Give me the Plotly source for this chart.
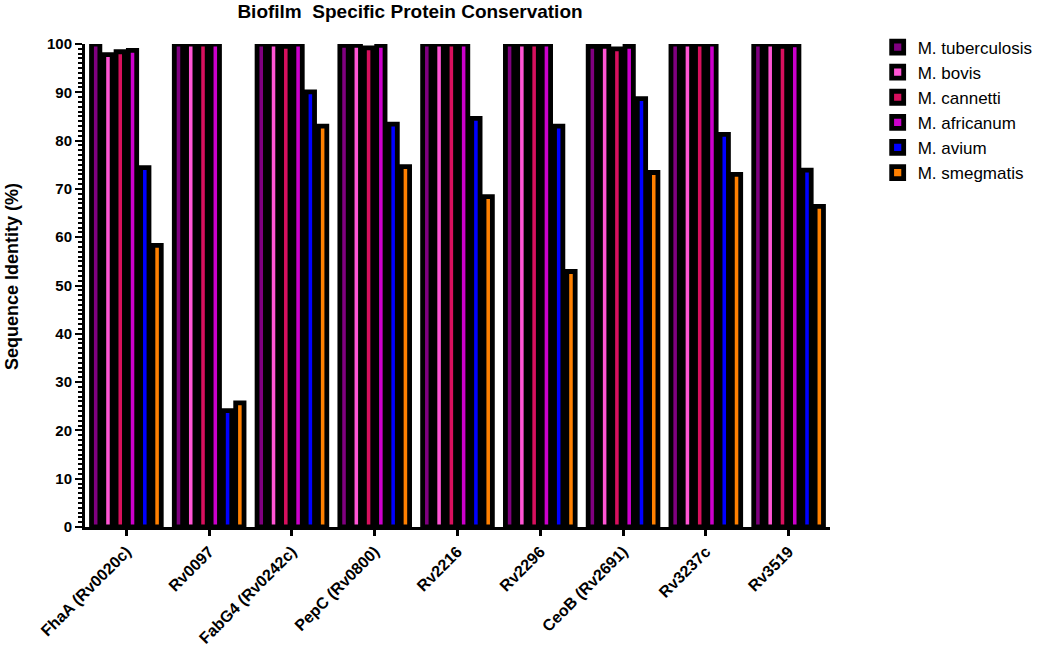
import plotly.graph_objects as go

categories = ["FhaA (Rv0020c)", "Rv0097", "FabG4 (Rv0242c)", "PepC (Rv0800)", "Rv2216",
              "Rv2296", "CeoB (Rv2691)", "Rv3237c", "Rv3519"]

species = ["M. tuberculosis", "M. bovis", "M. cannetti", "M. africanum", "M. avium", "M. smegmatis"]

tuberculosis = [100, 100, 100, 99.7, 100, 100, 99.5, 100, 100]
bovis = [97.8, 100, 100, 99.7, 100, 100, 99.5, 100, 100]
cannetti = [98.4, 100, 99.5, 99.2, 100, 100, 99.0, 100, 99.5]
africanum = [98.7, 100, 100, 99.7, 100, 100, 99.5, 100, 99.8]
avium = [74.4, 24.1, 90.1, 83.4, 84.6, 83.0, 88.7, 81.3, 73.9]
smegmatis = [58.3, 25.7, 83.0, 74.6, 68.4, 52.9, 73.4, 73.0, 66.4]

series = [tuberculosis, bovis, cannetti, africanum, avium, smegmatis]
colors = ["#800080", "#FF55D5", "#D8105E", "#CC00CC", "#0000FF", "#FF8000"]

y_ticks = list(range(0, 101, 10))

fig = go.Figure()
for name, vals, col in zip(species, series, colors):
    fig.add_trace(go.Bar(
        x=categories, y=vals, name=name,
        marker=dict(color=col, line=dict(color="black", width=4.8)),
        cliponaxis=False,
    ))

font_family = "Liberation Sans, Arial, sans-serif"

fig.update_layout(
    width=1050, height=651,
    margin=dict(l=85, r=213, t=43.5, b=124),
    paper_bgcolor="white", plot_bgcolor="white",
    barmode="group", bargap=0.11, bargroupgap=0.32,
    font=dict(family=font_family, color="black"),
    title=dict(text="<b>Biofilm\u00a0 Specific Protein Conservation</b>",
               x=410 / 1050, xref="container", xanchor="center",
               y=1 - 11 / 651, yref="container", yanchor="middle",
               font=dict(size=19, family=font_family, color="black")),
    legend=dict(x=1.064, xanchor="left", y=1.03, yanchor="top",
                font=dict(size=17, family=font_family, color="black"),
                bgcolor="rgba(0,0,0,0)", tracegroupgap=0),
    showlegend=True,
    annotations=[dict(text="<b>Sequence Identity (%)</b>", textangle=-90,
                      xref="paper", yref="paper", x=-0.097, y=0.519,
                      xanchor="center", yanchor="middle", showarrow=False,
                      font=dict(size=18, family=font_family, color="black"))],
)

fig.update_xaxes(
    type="category", range=[-0.5, 8.5], automargin=False,
    showline=True, linecolor="black", linewidth=3,
    ticks="outside", ticklen=6, tickwidth=3, tickcolor="black",
    tickangle=-45, tickfont=dict(size=16, family=font_family, color="black"),
    showgrid=False, zeroline=False,
)
fig.update_xaxes(ticktext=[f"<b>{c}</b>" for c in categories], tickvals=categories)

fig.update_yaxes(
    range=[0, 100], tickvals=y_ticks, ticktext=[f"<b>{v}</b>" for v in y_ticks],
    automargin=False,
    showline=True, linecolor="black", linewidth=3,
    ticks="outside", ticklen=7, tickwidth=2, tickcolor="black",
    tickfont=dict(size=15, family=font_family, color="black"),
    minor=dict(ticks="outside", dtick=1, ticklen=4, tickwidth=1.5, tickcolor="black", showgrid=False),
    showgrid=False, zeroline=False,
)

fig.write_html("out.html", config={"displayModeBar": False},
               post_script="document.body.style.margin='0';document.body.style.overflow='hidden';")
